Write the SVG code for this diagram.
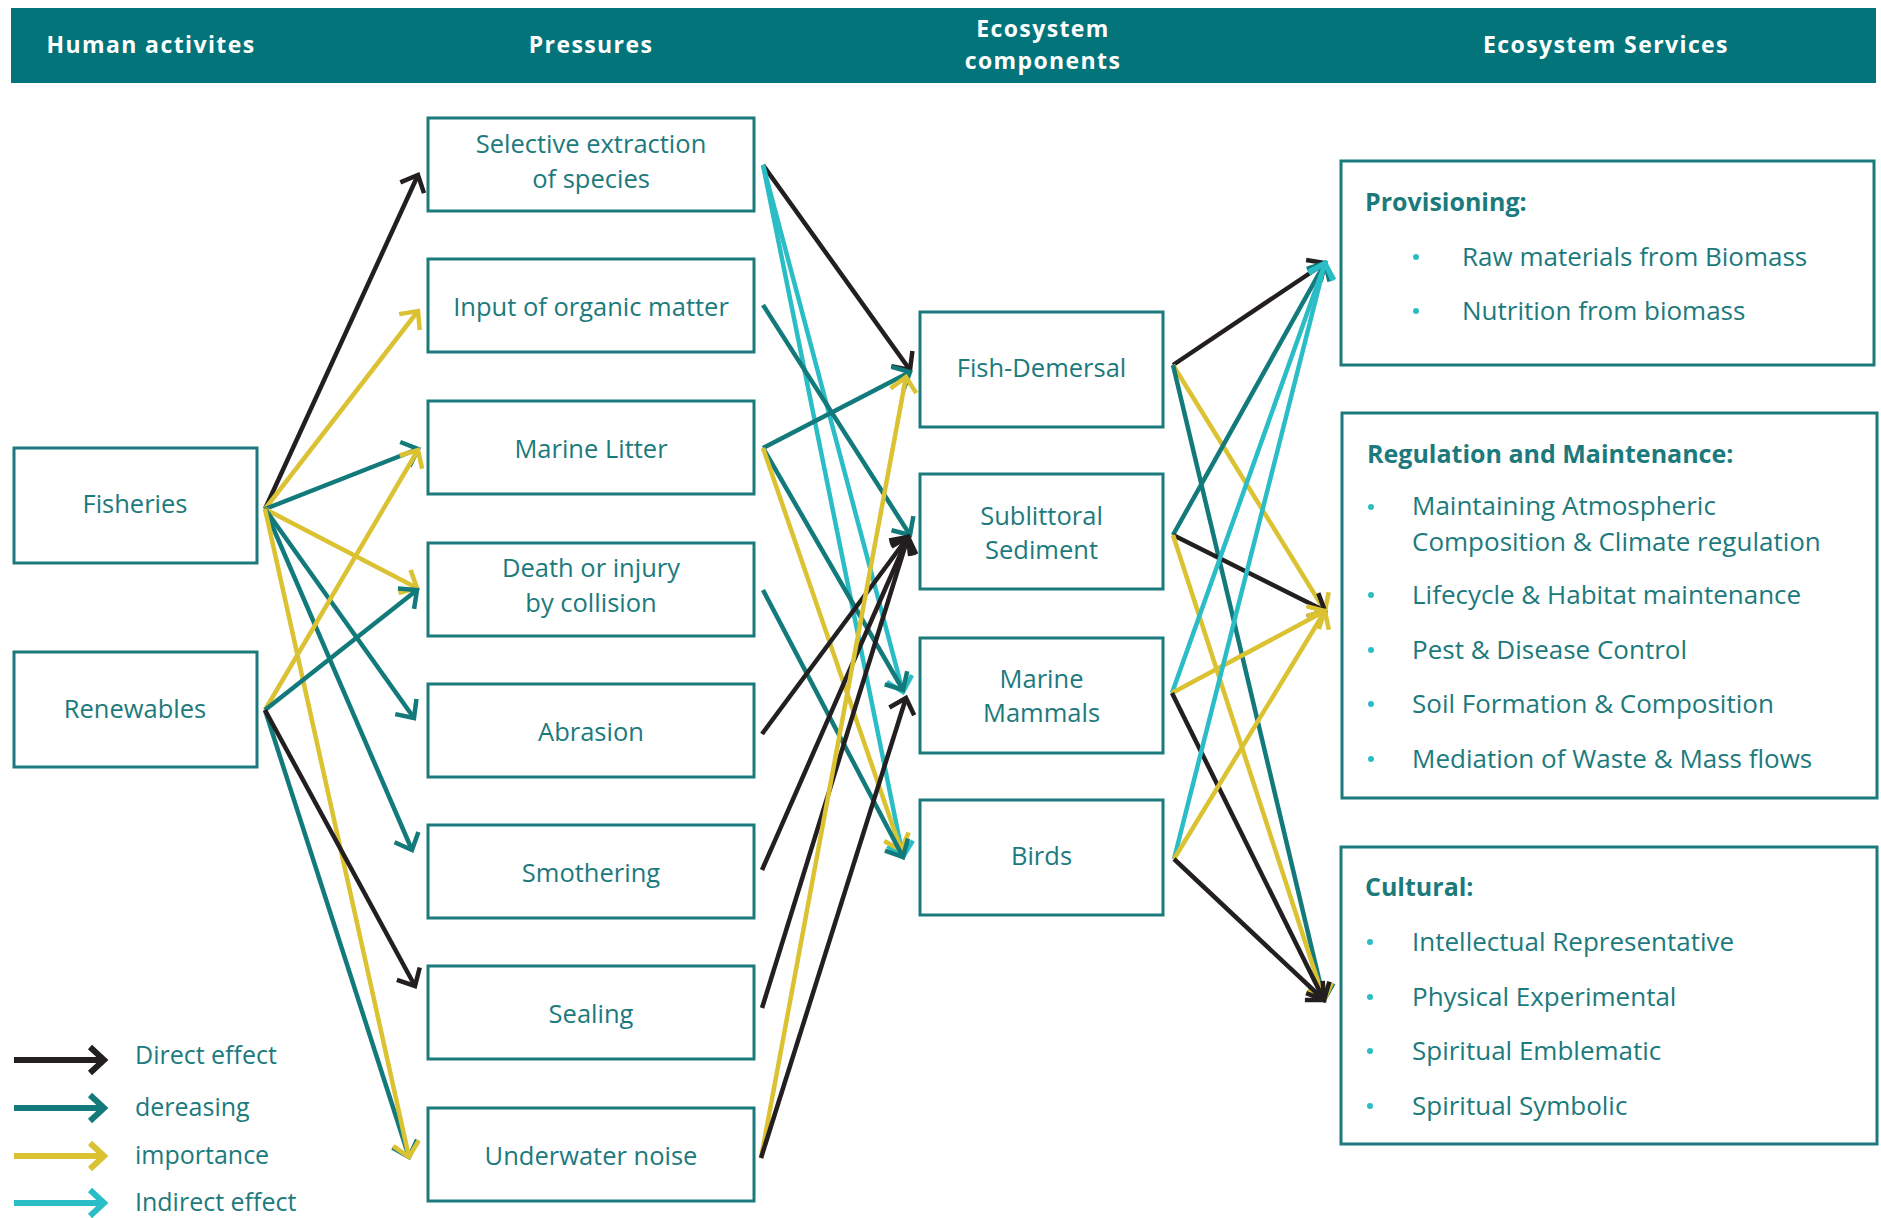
<svg xmlns="http://www.w3.org/2000/svg" width="1881" height="1218" viewBox="0 0 1881 1218">
  <style>
    .hdr { font-family: "Open Sans", "Liberation Sans", sans-serif; font-weight: 700; font-size: 23px; fill: #ffffff; letter-spacing: 1.4px; text-anchor: middle; }
    .box { fill: #ffffff; stroke: #1c7a7d; stroke-width: 3; }
    .lbl { font-family: "Open Sans", "Liberation Sans", sans-serif; font-size: 25.5px; fill: #1c7a7d; text-anchor: middle; }
    .item { font-family: "Open Sans", "Liberation Sans", sans-serif; font-size: 26px; fill: #1c7a7d; }
    .legt { font-family: "Open Sans", "Liberation Sans", sans-serif; font-size: 25px; fill: #1c7a7d; }
    .ttl { font-family: "Open Sans", "Liberation Sans", sans-serif; font-size: 25px; font-weight: 700; fill: #1c7a7d; }
    .dot { fill: #2bbdc6; }
    .c { fill: none; stroke-width: 4.5; }
    .k { stroke: #231f20; }
    .t { stroke: #137a7b; }
    .y { stroke: #dbc232; }
    .b { stroke: #2bbdc6; }
    .ck { marker-end: url(#ah-k); }
    .ct { marker-end: url(#ah-t); }
    .cy { marker-end: url(#ah-y); }
    .cb { marker-end: url(#ah-b); }
    .leg { fill: none; stroke-width: 6; }
  </style>
  <defs>
    <marker id="ah-k" markerUnits="userSpaceOnUse" orient="auto" markerWidth="40" markerHeight="40" refX="0" refY="0" overflow="visible">
      <path d="M-14,-13 L0,0 L-14,13" fill="none" stroke="#231f20" stroke-width="4.5"/>
    </marker>
    <marker id="ah-t" markerUnits="userSpaceOnUse" orient="auto" markerWidth="40" markerHeight="40" refX="0" refY="0" overflow="visible">
      <path d="M-14,-13 L0,0 L-14,13" fill="none" stroke="#137a7b" stroke-width="4.5"/>
    </marker>
    <marker id="ah-y" markerUnits="userSpaceOnUse" orient="auto" markerWidth="40" markerHeight="40" refX="0" refY="0" overflow="visible">
      <path d="M-14,-13 L0,0 L-14,13" fill="none" stroke="#dbc232" stroke-width="4.5"/>
    </marker>
    <marker id="ah-b" markerUnits="userSpaceOnUse" orient="auto" markerWidth="40" markerHeight="40" refX="0" refY="0" overflow="visible">
      <path d="M-14,-13 L0,0 L-14,13" fill="none" stroke="#2bbdc6" stroke-width="4.5"/>
    </marker>
  </defs>

  <rect width="1881" height="1218" fill="#ffffff"/>

  <!-- column header bar -->
  <g id="header">
    <rect x="11" y="8" width="1865" height="75" fill="#03757a"/>
    <text class="hdr" x="151" y="53">Human activites</text>
    <text class="hdr" x="591" y="53">Pressures</text>
    <text class="hdr" x="1043" y="37">Ecosystem</text>
    <text class="hdr" x="1043" y="69">components</text>
    <text class="hdr" x="1606" y="53">Ecosystem Services</text>
  </g>

  <!-- human activities -->
  <g id="fisheries">
    <rect class="box" x="14" y="448" width="243" height="115"/>
    <text class="lbl" x="135" y="513">Fisheries</text>
  </g>
  <g id="renewables">
    <rect class="box" x="14" y="652" width="243" height="115"/>
    <text class="lbl" x="135" y="718">Renewables</text>
  </g>

  <!-- pressures -->
  <g id="selective-extraction">
    <rect class="box" x="428" y="118" width="326" height="93"/>
    <text class="lbl" x="591" y="153">Selective extraction</text>
    <text class="lbl" x="591" y="188">of species</text>
  </g>
  <g id="organic-matter">
    <rect class="box" x="428" y="259" width="326" height="93"/>
    <text class="lbl" x="591" y="316">Input of organic matter</text>
  </g>
  <g id="marine-litter">
    <rect class="box" x="428" y="401" width="326" height="93"/>
    <text class="lbl" x="591" y="458">Marine Litter</text>
  </g>
  <g id="death-injury">
    <rect class="box" x="428" y="543" width="326" height="93"/>
    <text class="lbl" x="591" y="577">Death or injury</text>
    <text class="lbl" x="591" y="612">by collision</text>
  </g>
  <g id="abrasion">
    <rect class="box" x="428" y="684" width="326" height="93"/>
    <text class="lbl" x="591" y="741">Abrasion</text>
  </g>
  <g id="smothering">
    <rect class="box" x="428" y="825" width="326" height="93"/>
    <text class="lbl" x="591" y="882">Smothering</text>
  </g>
  <g id="sealing">
    <rect class="box" x="428" y="966" width="326" height="93"/>
    <text class="lbl" x="591" y="1023">Sealing</text>
  </g>
  <g id="underwater-noise">
    <rect class="box" x="428" y="1108" width="326" height="93"/>
    <text class="lbl" x="591" y="1165">Underwater noise</text>
  </g>

  <!-- ecosystem components -->
  <g id="fish-demersal">
    <rect class="box" x="920" y="312" width="243" height="115"/>
    <text class="lbl" x="1041.5" y="377">Fish-Demersal</text>
  </g>
  <g id="sublittoral-sediment">
    <rect class="box" x="920" y="474" width="243" height="115"/>
    <text class="lbl" x="1041.5" y="525">Sublittoral</text>
    <text class="lbl" x="1041.5" y="559">Sediment</text>
  </g>
  <g id="marine-mammals">
    <rect class="box" x="920" y="638" width="243" height="115"/>
    <text class="lbl" x="1041.5" y="688">Marine</text>
    <text class="lbl" x="1041.5" y="722">Mammals</text>
  </g>
  <g id="birds">
    <rect class="box" x="920" y="800" width="243" height="115"/>
    <text class="lbl" x="1041.5" y="865">Birds</text>
  </g>

  <!-- ecosystem services -->
  <g id="provisioning">
    <rect class="box" x="1341" y="161" width="533" height="204"/>
    <text class="ttl" x="1365" y="211">Provisioning:</text>
    <circle class="dot" cx="1416" cy="257" r="3"/>
    <text class="item" x="1462" y="266">Raw materials from Biomass</text>
    <circle class="dot" cx="1416" cy="311" r="3"/>
    <text class="item" x="1462" y="320">Nutrition from biomass</text>
  </g>
  <g id="regulation-maintenance">
    <rect class="box" x="1342" y="413" width="535" height="385"/>
    <text class="ttl" x="1367" y="463">Regulation and Maintenance:</text>
    <circle class="dot" cx="1371" cy="507" r="3"/>
    <text class="item" x="1412" y="515">Maintaining Atmospheric</text>
    <text class="item" x="1412" y="551">Composition &amp; Climate regulation</text>
    <circle class="dot" cx="1371" cy="595" r="3"/>
    <text class="item" x="1412" y="604">Lifecycle &amp; Habitat maintenance</text>
    <circle class="dot" cx="1371" cy="650" r="3"/>
    <text class="item" x="1412" y="659">Pest &amp; Disease Control</text>
    <circle class="dot" cx="1371" cy="704" r="3"/>
    <text class="item" x="1412" y="713">Soil Formation &amp; Composition</text>
    <circle class="dot" cx="1371" cy="759" r="3"/>
    <text class="item" x="1412" y="768">Mediation of Waste &amp; Mass flows</text>
  </g>
  <g id="cultural">
    <rect class="box" x="1341" y="847" width="536" height="297"/>
    <text class="ttl" x="1365" y="896">Cultural:</text>
    <circle class="dot" cx="1370" cy="942" r="3"/>
    <text class="item" x="1412" y="951">Intellectual Representative</text>
    <circle class="dot" cx="1370" cy="997" r="3"/>
    <text class="item" x="1412" y="1006">Physical Experimental</text>
    <circle class="dot" cx="1370" cy="1051" r="3"/>
    <text class="item" x="1412" y="1060">Spiritual Emblematic</text>
    <circle class="dot" cx="1370" cy="1106" r="3"/>
    <text class="item" x="1412" y="1115">Spiritual Symbolic</text>
  </g>

  <!-- connectors -->
  <g id="connectors">
    <!-- human activities to pressures -->
    <path class="c k ck" d="M265,509 L418,175"/>
    <path class="c y cy" d="M265,509 L418,311"/>
    <path class="c t ct" d="M265,509 L418,449"/>
    <path class="c y cy" d="M265,509 L417,588"/>
    <path class="c t ct" d="M265,509 L414,718"/>
    <path class="c t ct" d="M265,509 L412,850"/>
    <path class="c t ct" d="M265,710 L409,1157"/>
    <path class="c y cy" d="M265,509 L409,1157"/>
    <path class="c y cy" d="M265,710 L418,450"/>
    <path class="c t ct" d="M265,710 L417,590"/>
    <path class="c k ck" d="M265,710 L415,986"/>

    <!-- pressures to ecosystem components -->
    <path class="c k ck" d="M763,165 L910,370"/>
    <path class="c b cb" d="M763,165 L903,692"/>
    <path class="c b cb" d="M763,165 L903,857"/>
    <path class="c t ct" d="M763,305 L910,535"/>
    <path class="c t ct" d="M763,448 L910,372"/>
    <path class="c t ct" d="M763,448 L903,690"/>
    <path class="c y cy" d="M763,448 L901,850"/>
    <path class="c t ct" d="M763,590 L903,857"/>
    <path class="c k ck" d="M762,734 L908,537"/>
    <path class="c k ck" d="M762,870 L908,537"/>
    <path class="c k ck" d="M762,1008 L908,537"/>
    <path class="c y cy" d="M761,1158 L906,377"/>
    <path class="c k ck" d="M761,1158 L906,698"/>

    <!-- ecosystem components to services -->
    <path class="c k ck" d="M1173,365 L1325,263"/>
    <path class="c y cy" d="M1173,365 L1325,611"/>
    <path class="c t ct" d="M1173,365 L1324,1000"/>
    <path class="c t ct" d="M1173,535 L1325,263"/>
    <path class="c k ck" d="M1173,535 L1325,611"/>
    <path class="c y cy" d="M1173,535 L1324,1000"/>
    <path class="c b cb" d="M1172,693 L1325,263"/>
    <path class="c y cy" d="M1172,693 L1325,611"/>
    <path class="c k ck" d="M1172,693 L1324,1000"/>
    <path class="c b cb" d="M1174,859 L1325,263"/>
    <path class="c y cy" d="M1174,859 L1325,611"/>
    <path class="c k ck" d="M1174,859 L1324,1000"/>
  </g>

  <!-- legend -->
  <g id="legend">
    <path class="leg k" d="M14,1060 H102 M90,1047 L104,1060 L90,1073"/>
    <text class="legt" x="135" y="1064">Direct effect</text>
    <path class="leg t" d="M14,1108 H102 M90,1095 L104,1108 L90,1121"/>
    <text class="legt" x="135" y="1116">dereasing</text>
    <path class="leg y" d="M14,1156 H102 M90,1143 L104,1156 L90,1169"/>
    <text class="legt" x="135" y="1164">importance</text>
    <path class="leg b" d="M14,1203 H102 M90,1190 L104,1203 L90,1216"/>
    <text class="legt" x="135" y="1211">Indirect effect</text>
  </g>
</svg>
